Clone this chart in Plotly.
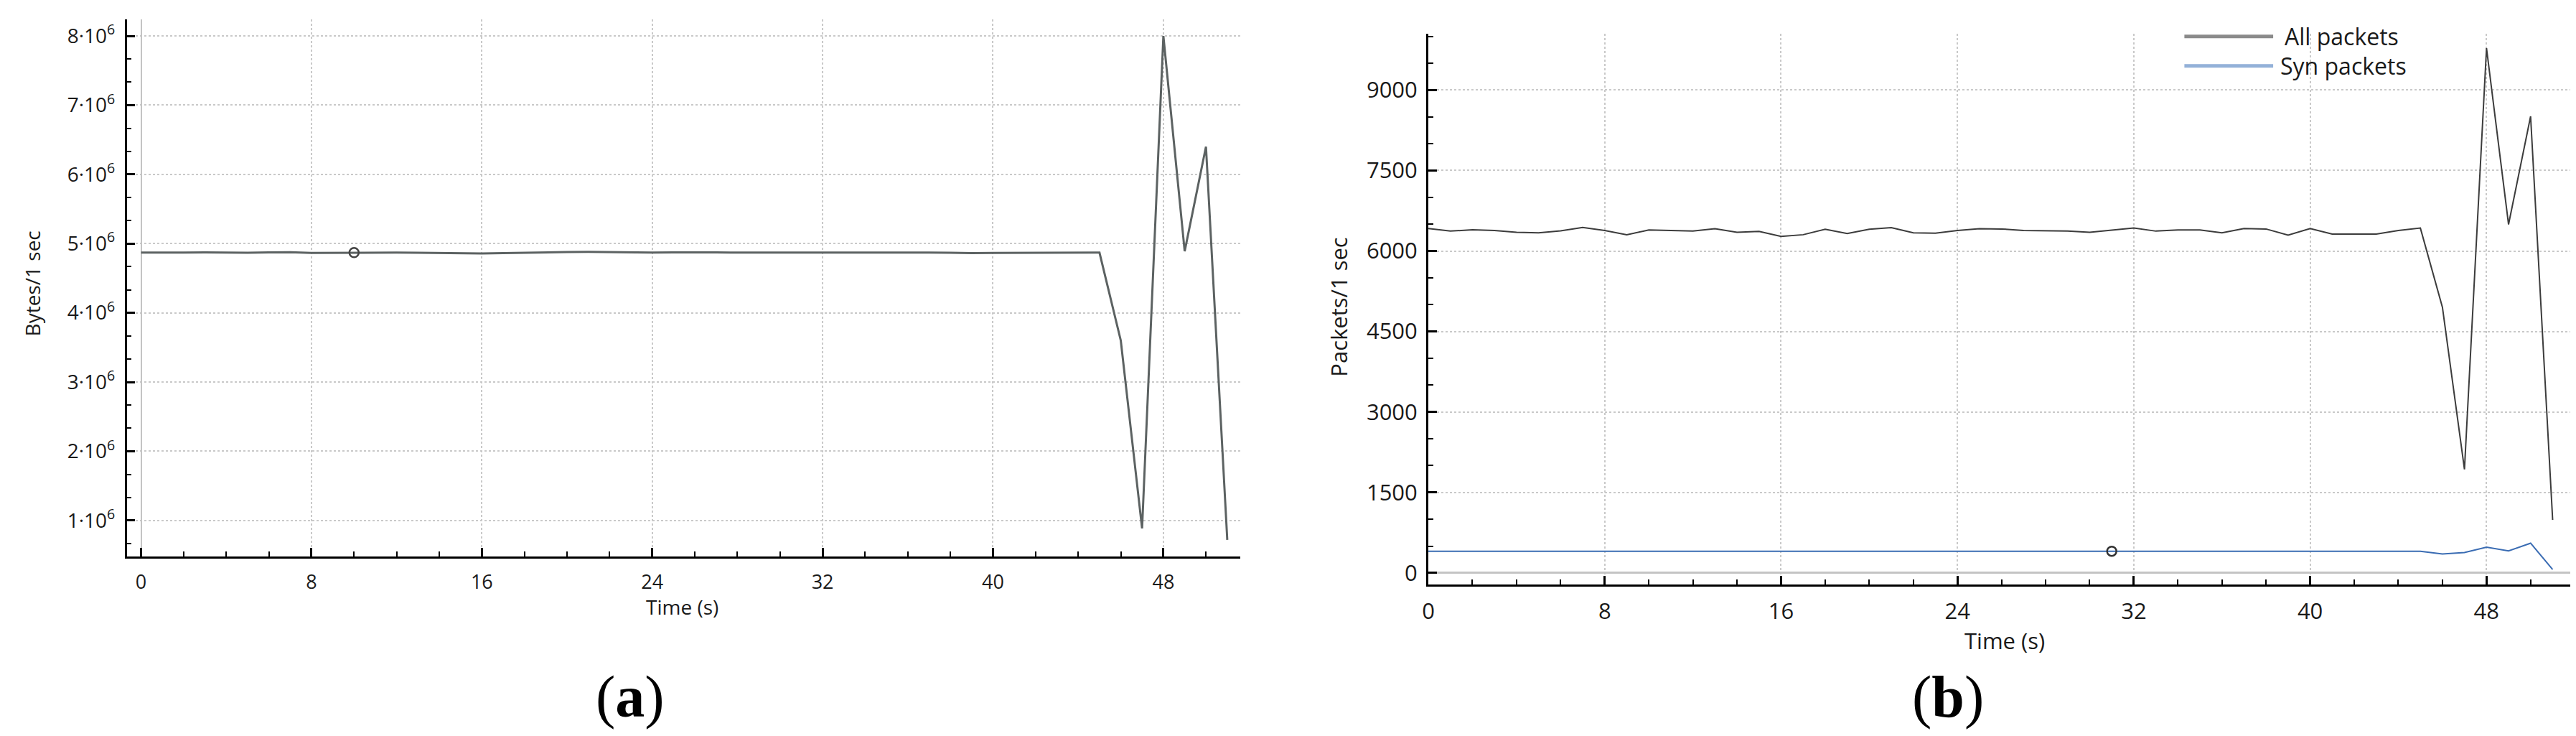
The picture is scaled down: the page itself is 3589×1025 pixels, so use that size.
import plotly.graph_objects as go

W, H = 3589, 1025

# time axis (s), one sample per second
time_s = [0, 1, 2, 3, 4, 5, 6, 7, 8, 9, 10, 11, 12, 13, 14, 15, 16, 17, 18, 19,
          20, 21, 22, 23, 24, 25, 26, 27, 28, 29, 30, 31, 32, 33, 34, 35, 36, 37, 38, 39,
          40, 41, 42, 43, 44, 45, 46, 47, 48, 49, 50, 51]

# (a) bytes per second
bytes_per_sec = [4.870e6, 4.868e6, 4.870e6, 4.872e6, 4.870e6, 4.868e6, 4.874e6, 4.876e6,
                 4.866e6, 4.868e6, 4.870e6, 4.872e6, 4.870e6, 4.868e6, 4.866e6, 4.862e6,
                 4.858e6, 4.864e6, 4.870e6, 4.874e6, 4.878e6, 4.880e6, 4.876e6, 4.872e6,
                 4.870e6, 4.872e6, 4.874e6, 4.872e6, 4.870e6, 4.870e6, 4.872e6, 4.874e6,
                 4.876e6, 4.874e6, 4.872e6, 4.874e6, 4.872e6, 4.870e6, 4.868e6, 4.862e6,
                 4.866e6, 4.868e6, 4.866e6, 4.866e6, 4.868e6, 4.870e6,
                 3.60e6, 0.885e6, 8.00e6, 4.89e6, 6.40e6, 0.72e6]

# (b) packets per second
all_packets = [6418, 6370, 6396, 6383, 6347, 6338, 6374, 6440, 6383, 6303,
               6391, 6378, 6370, 6414, 6347, 6365, 6271, 6303, 6405, 6325,
               6405, 6436, 6338, 6330, 6383, 6414, 6410, 6383, 6378, 6370,
               6347, 6391, 6427, 6370, 6391, 6391, 6338, 6418, 6410, 6294,
               6418, 6316, 6316, 6316, 6383, 6427, 4950, 1930, 9780, 6495,
               8510, 990]
syn_packets = [405] * 46 + [355, 380, 480, 410, 555, 65]

bytes_ticks = [1e6, 2e6, 3e6, 4e6, 5e6, 6e6, 7e6, 8e6]
bytes_ticktext = [f"{i}·10<sup>6</sup>" for i in range(1, 9)]
marker_a = 10   # selected sample in (a)
marker_b = 31   # selected sample in (b)

FONT = "Open Sans, Noto Sans, sans-serif"
GRID = "#c9c9c9"


def px_x(px):
    return px / W


def px_y(py):
    return 1 - py / H


fig = go.Figure()

fig.add_trace(go.Scatter(x=time_s, y=bytes_per_sec, mode="lines",
                         line=dict(color="#5c6262", width=3),
                         xaxis="x", yaxis="y", showlegend=False))
fig.add_trace(go.Scatter(x=[time_s[marker_a]], y=[bytes_per_sec[marker_a]], mode="markers",
                         marker=dict(symbol="circle-open", size=13, color="#444",
                                     line=dict(width=2.5)),
                         xaxis="x", yaxis="y", showlegend=False))

fig.add_trace(go.Scatter(x=time_s, y=all_packets, mode="lines",
                         line=dict(color="#3c3c3c", width=2),
                         xaxis="x2", yaxis="y2", showlegend=False))
fig.add_trace(go.Scatter(x=time_s, y=syn_packets, mode="lines",
                         line=dict(color="#3a6cb3", width=2),
                         xaxis="x2", yaxis="y2", showlegend=False))
fig.add_trace(go.Scatter(x=[time_s[marker_b]], y=[syn_packets[marker_b]], mode="markers",
                         marker=dict(symbol="circle-open", size=13, color="#333",
                                     line=dict(width=2.5)),
                         xaxis="x2", yaxis="y2", showlegend=False))

common = dict(showline=True, linecolor="black", ticks="inside", tickcolor="black",
              ticklen=12, tickwidth=2.5, showgrid=True, gridcolor=GRID,
              griddash="dot", gridwidth=2, mirror=False)

fig.update_layout(
    width=W, height=H,
    margin=dict(l=0, r=0, t=0, b=0),
    paper_bgcolor="white", plot_bgcolor="white",
    xaxis=dict(domain=[px_x(160), px_x(1715)], range=[-0.672, 51.6],
               tickmode="linear", tick0=0, dtick=8, linewidth=2.5,
               zeroline=True, zerolinecolor="#c4c4c4", zerolinewidth=2,
               minor=dict(ticks="inside", dtick=2, tick0=0, ticklen=7,
                          tickcolor="black", tickwidth=2),
               tickfont=dict(family=FONT, size=27, color="#1a1a1a"),
               ticklabelstandoff=10, anchor="y", **common),
    yaxis=dict(domain=[px_y(770), px_y(19)], range=[0.48e6, 8.24e6],
               tickmode="array", tickvals=bytes_ticks, ticktext=bytes_ticktext,
               linewidth=2.5, zeroline=False,
               minor=dict(ticks="inside", tickmode="linear", tick0=0, dtick=1e6 / 3,
                          ticklen=7, tickcolor="black", tickwidth=2),
               tickfont=dict(family=FONT, size=28, color="#1a1a1a"),
               ticklabelstandoff=8, anchor="x", **common),
    xaxis2=dict(domain=[px_x(1978), px_x(3573)], range=[0, 51.8],
                tickmode="linear", tick0=0, dtick=8, linewidth=3,
                zeroline=False,
                minor=dict(ticks="inside", dtick=2, tick0=0, ticklen=7,
                           tickcolor="black", tickwidth=2),
                tickfont=dict(family=FONT, size=31, color="#1a1a1a"),
                ticklabelstandoff=8, anchor="y2", **common),
    yaxis2=dict(domain=[px_y(809), px_y(39)], range=[-213, 10050],
                tickmode="linear", tick0=0, dtick=1500, tickformat="d",
                linewidth=3, zeroline=True, zerolinecolor="#c4c4c4", zerolinewidth=2.5,
                minor=dict(ticks="inside", dtick=500, tick0=0, ticklen=7,
                           tickcolor="black", tickwidth=2),
                tickfont=dict(family=FONT, size=31, color="#1a1a1a"),
                ticklabelstandoff=6, anchor="x2", **common),
)

annotations = [
    dict(text="Bytes/1 sec", x=px_x(29), y=px_y(388), textangle=-90,
         font=dict(family=FONT, size=28, color="#1a1a1a")),
    dict(text="Time (s)", x=px_x(936), y=px_y(840),
         font=dict(family=FONT, size=28, color="#1a1a1a")),
    dict(text="Packets/1 sec", x=px_x(1853), y=px_y(421), textangle=-90,
         font=dict(family=FONT, size=31, color="#1a1a1a")),
    dict(text="Time (s)", x=px_x(2783), y=px_y(887),
         font=dict(family=FONT, size=31, color="#1a1a1a")),
    dict(text="(<b>a</b>)", x=px_x(863), y=px_y(966),
         font=dict(family="Liberation Serif, DejaVu Serif, serif", size=82, color="black")),
    dict(text="(<b>b</b>)", x=px_x(2704), y=px_y(966),
         font=dict(family="Liberation Serif, DejaVu Serif, serif", size=82, color="black")),
    dict(text="All packets", x=px_x(3172), y=px_y(43), xanchor="left",
         font=dict(family=FONT, size=32, color="#1a1a1a")),
    dict(text="Syn packets", x=px_x(3166), y=px_y(84), xanchor="left",
         font=dict(family=FONT, size=32, color="#1a1a1a")),
]
for a in annotations:
    a.setdefault("xanchor", "center")
    fig.add_annotation(xref="paper", yref="paper", yanchor="middle",
                       showarrow=False, **a)

# legend line samples
fig.add_shape(type="line", xref="paper", yref="paper",
              x0=px_x(3034), x1=px_x(3158), y0=px_y(43), y1=px_y(43),
              line=dict(color="#8a8a8a", width=5))
fig.add_shape(type="line", xref="paper", yref="paper",
              x0=px_x(3034), x1=px_x(3158), y0=px_y(84), y1=px_y(84),
              line=dict(color="#93b1d8", width=5))

fig.write_html("out.html")
